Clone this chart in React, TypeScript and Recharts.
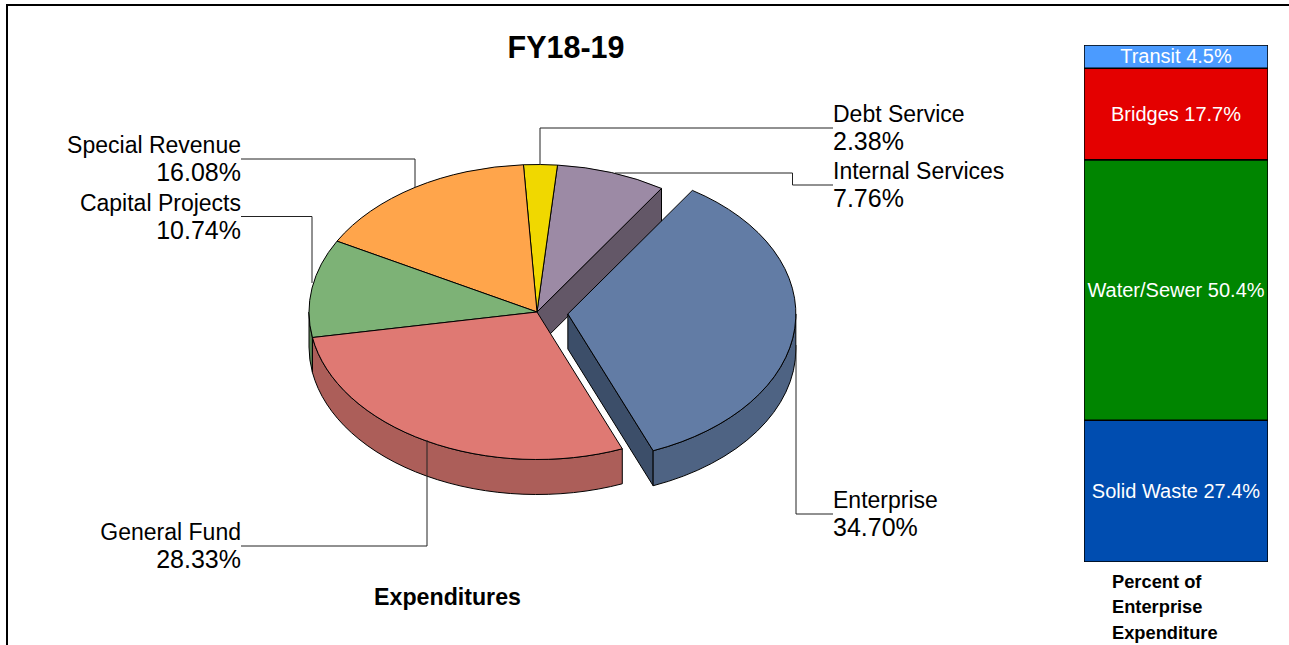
import React from "react"
import { PieChart, Pie, BarChart, Bar, XAxis, YAxis, LabelList } from "recharts"

// drawn in this order, going counter clockwise from the gap, so that each slice paints over the last
const fundNames = ["Internal Services", "Debt Service", "Special Revenue", "Capital Projects", "General Fund", "Enterprise"]
const fundShares = [7.76, 2.38, 16.08, 10.74, 28.33, 34.7]
const fundColors = ["#9C8AA5", "#F0D800", "#FFA54B", "#7DB276", "#DF7973", "#627CA5"]
const fundWalls = ["#635767", "#A89800", "#B87A38", "#5C8657", "#AC5E59", "#4E6383"]
const fundFaces = ["#635767", "#A89800", "#B87A38", "#5C8657", "#AC5E59", "#3C4E69"]

const enterpriseNames = ["Solid Waste", "Water/Sewer", "Bridges", "Transit"]
const enterpriseShares = [27.4, 50.4, 17.7, 4.5]
const enterpriseColors = ["#004DB0", "#008500", "#E40000", "#4B9BFF"]

const FONT = "'Liberation Sans', Arial, sans-serif"
const RX = 228
const RY = 147.5
const DEPTH = 35
const EXPLODE = 31
const EXPLODED = "Enterprise"
const OPEN_FACES = ["Internal Services", "Enterprise"]

// leader lines: the y of the label anchor, then the elbow points out to the slice
const LEADERS: Record<string, { side: "left" | "right"; points: number[][] }> = {
  "Special Revenue": { side: "left", points: [[241, 159], [415, 159], [415, 187]] },
  "Capital Projects": { side: "left", points: [[241, 216.5], [312, 216.5], [312, 283]] },
  "General Fund": { side: "left", points: [[241, 546], [427, 546], [427, 440]] },
  "Debt Service": { side: "right", points: [[833, 128], [540, 128], [540, 165]] },
  "Internal Services": { side: "right", points: [[833, 185], [792.5, 185], [792.5, 173], [615, 173]] },
  Enterprise: { side: "right", points: [[833, 514], [796, 514], [796, 345]] },
}

const fundRows = fundNames.map((name, i) => ({
  name,
  value: fundShares[i],
  fill: fundColors[i],
  wall: fundWalls[i],
  face: fundFaces[i],
}))

const enterpriseRow = Object.fromEntries([["row", "Enterprise"], ...enterpriseNames.map((n, i) => [n, enterpriseShares[i]])])

const rad = (a: number) => (a * Math.PI) / 180

function PieSlice3D(props: any) {
  const { cx, cy, startAngle, endAngle, payload } = props
  const name = payload.name
  let x0 = cx
  let y0 = cy
  if (name === EXPLODED) {
    const mid = rad((startAngle + endAngle) / 2)
    x0 += EXPLODE * Math.cos(mid)
    y0 -= EXPLODE * Math.sin(mid) * (RY / RX)
  }
  const px = (a: number) => x0 + RX * Math.cos(rad(a))
  const py = (a: number) => y0 - RY * Math.sin(rad(a))
  const large = endAngle - startAngle > 180 ? 1 : 0
  const top = `M${x0},${y0} L${px(startAngle)},${py(startAngle)} A${RX},${RY} 0 ${large} 0 ${px(endAngle)},${py(endAngle)} Z`

  // outer wall: only the part of the rim on the near half of the ellipse shows
  const from = Math.max(startAngle, 180)
  const to = Math.min(endAngle, 360)
  let rim = null
  if (to > from) {
    const big = to - from > 180 ? 1 : 0
    rim =
      `M${px(from)},${py(from)} A${RX},${RY} 0 ${big} 0 ${px(to)},${py(to)} ` +
      `L${px(to)},${py(to) + DEPTH} A${RX},${RY} 0 ${big} 1 ${px(from)},${py(from) + DEPTH} Z`
  }
  // radial face that the pulled out slice exposes
  const face = OPEN_FACES.includes(name)
    ? `M${x0},${y0} L${px(startAngle)},${py(startAngle)} L${px(startAngle)},${py(startAngle) + DEPTH} L${x0},${y0 + DEPTH} Z`
    : null

  return (
    <g>
      {face && <path d={face} fill={payload.face} stroke="#000" strokeWidth={1} strokeLinejoin="round" />}
      {rim && <path d={rim} fill={payload.wall} stroke="#000" strokeWidth={1} strokeLinejoin="round" />}
      <path d={top} fill={payload.fill} stroke="#000" strokeWidth={1} strokeLinejoin="round" />
    </g>
  )
}

function FundLabel(props: any) {
  const { name, value } = props
  const leader = LEADERS[name]
  const [x, y] = leader.points[0]
  const anchor = leader.side === "left" ? "end" : "start"
  return (
    <g fontFamily={FONT} fill="#000" textAnchor={anchor}>
      <text x={x} y={y - 6} fontSize={23}>{name}</text>
      <text x={x} y={y + 22} fontSize={25}>{value.toFixed(2)}%</text>
    </g>
  )
}

function FundLeader(props: any) {
  const leader = LEADERS[props.name]
  return <polyline points={leader.points.map((p) => p.join(",")).join(" ")} fill="none" stroke="#222" strokeWidth={1} />
}

function BarText(props: any) {
  const { x, y, width, height, value, name } = props
  return (
    <text x={x + width / 2} y={y + height / 2 + 6.5} textAnchor="middle" fontFamily={FONT} fontSize={20} fill="#fff">
      {name} {value}%
    </text>
  )
}

const caption = ["Percent of", "Enterprise", "Expenditure"]

export default function App() {
  return (
    <div style={{ position: "absolute", left: 0, top: 0, width: 1289, height: 645, overflow: "hidden", background: "#fff" }}>
      <div style={{ position: "absolute", left: 6, top: 4, width: 1300, height: 700, borderTop: "2px solid #000", borderLeft: "2px solid #000" }} />

      <div style={{ position: "absolute", left: 0, top: 0 }}>
        <PieChart width={1060} height={645} margin={{ top: 0, right: 0, bottom: 0, left: 0 }}>
          <Pie
            data={fundRows}
            dataKey="value"
            nameKey="name"
            cx={537}
            cy={312}
            outerRadius={RX}
            startAngle={56.9}
            endAngle={416.9}
            shape={PieSlice3D}
            label={FundLabel}
            labelLine={FundLeader}
            isAnimationActive={false}
          />
          <text x={566} y={58} textAnchor="middle" fontFamily={FONT} fontSize={30.5} fontWeight="bold" fill="#000">FY18-19</text>
          <text x={447.5} y={605} textAnchor="middle" fontFamily={FONT} fontSize={23.2} fontWeight="bold" fill="#000">Expenditures</text>
        </PieChart>
      </div>

      <div style={{ position: "absolute", left: 1084, top: 45 }}>
        <BarChart width={184} height={517} data={[enterpriseRow]} margin={{ top: 0, right: 0, bottom: 0, left: 0 }} barCategoryGap={0}>
          <XAxis dataKey="row" hide />
          <YAxis type="number" domain={[0, 100]} hide />
          {enterpriseNames.map((name, i) => (
            <Bar key={name} dataKey={name} stackId="enterprise" fill={enterpriseColors[i]} stroke="#000" strokeWidth={1.5} isAnimationActive={false}>
              <LabelList dataKey={name} content={(p: any) => <BarText {...p} name={name} />} />
            </Bar>
          ))}
        </BarChart>
      </div>

      {caption.map((line, i) => (
        <div
          key={line}
          style={{ position: "absolute", left: 1112, top: 570.5 + i * 25.5, fontFamily: FONT, fontSize: 18.3, fontWeight: "bold", lineHeight: "22px", color: "#000", whiteSpace: "nowrap" }}
        >
          {line}
        </div>
      ))}
    </div>
  )
}
